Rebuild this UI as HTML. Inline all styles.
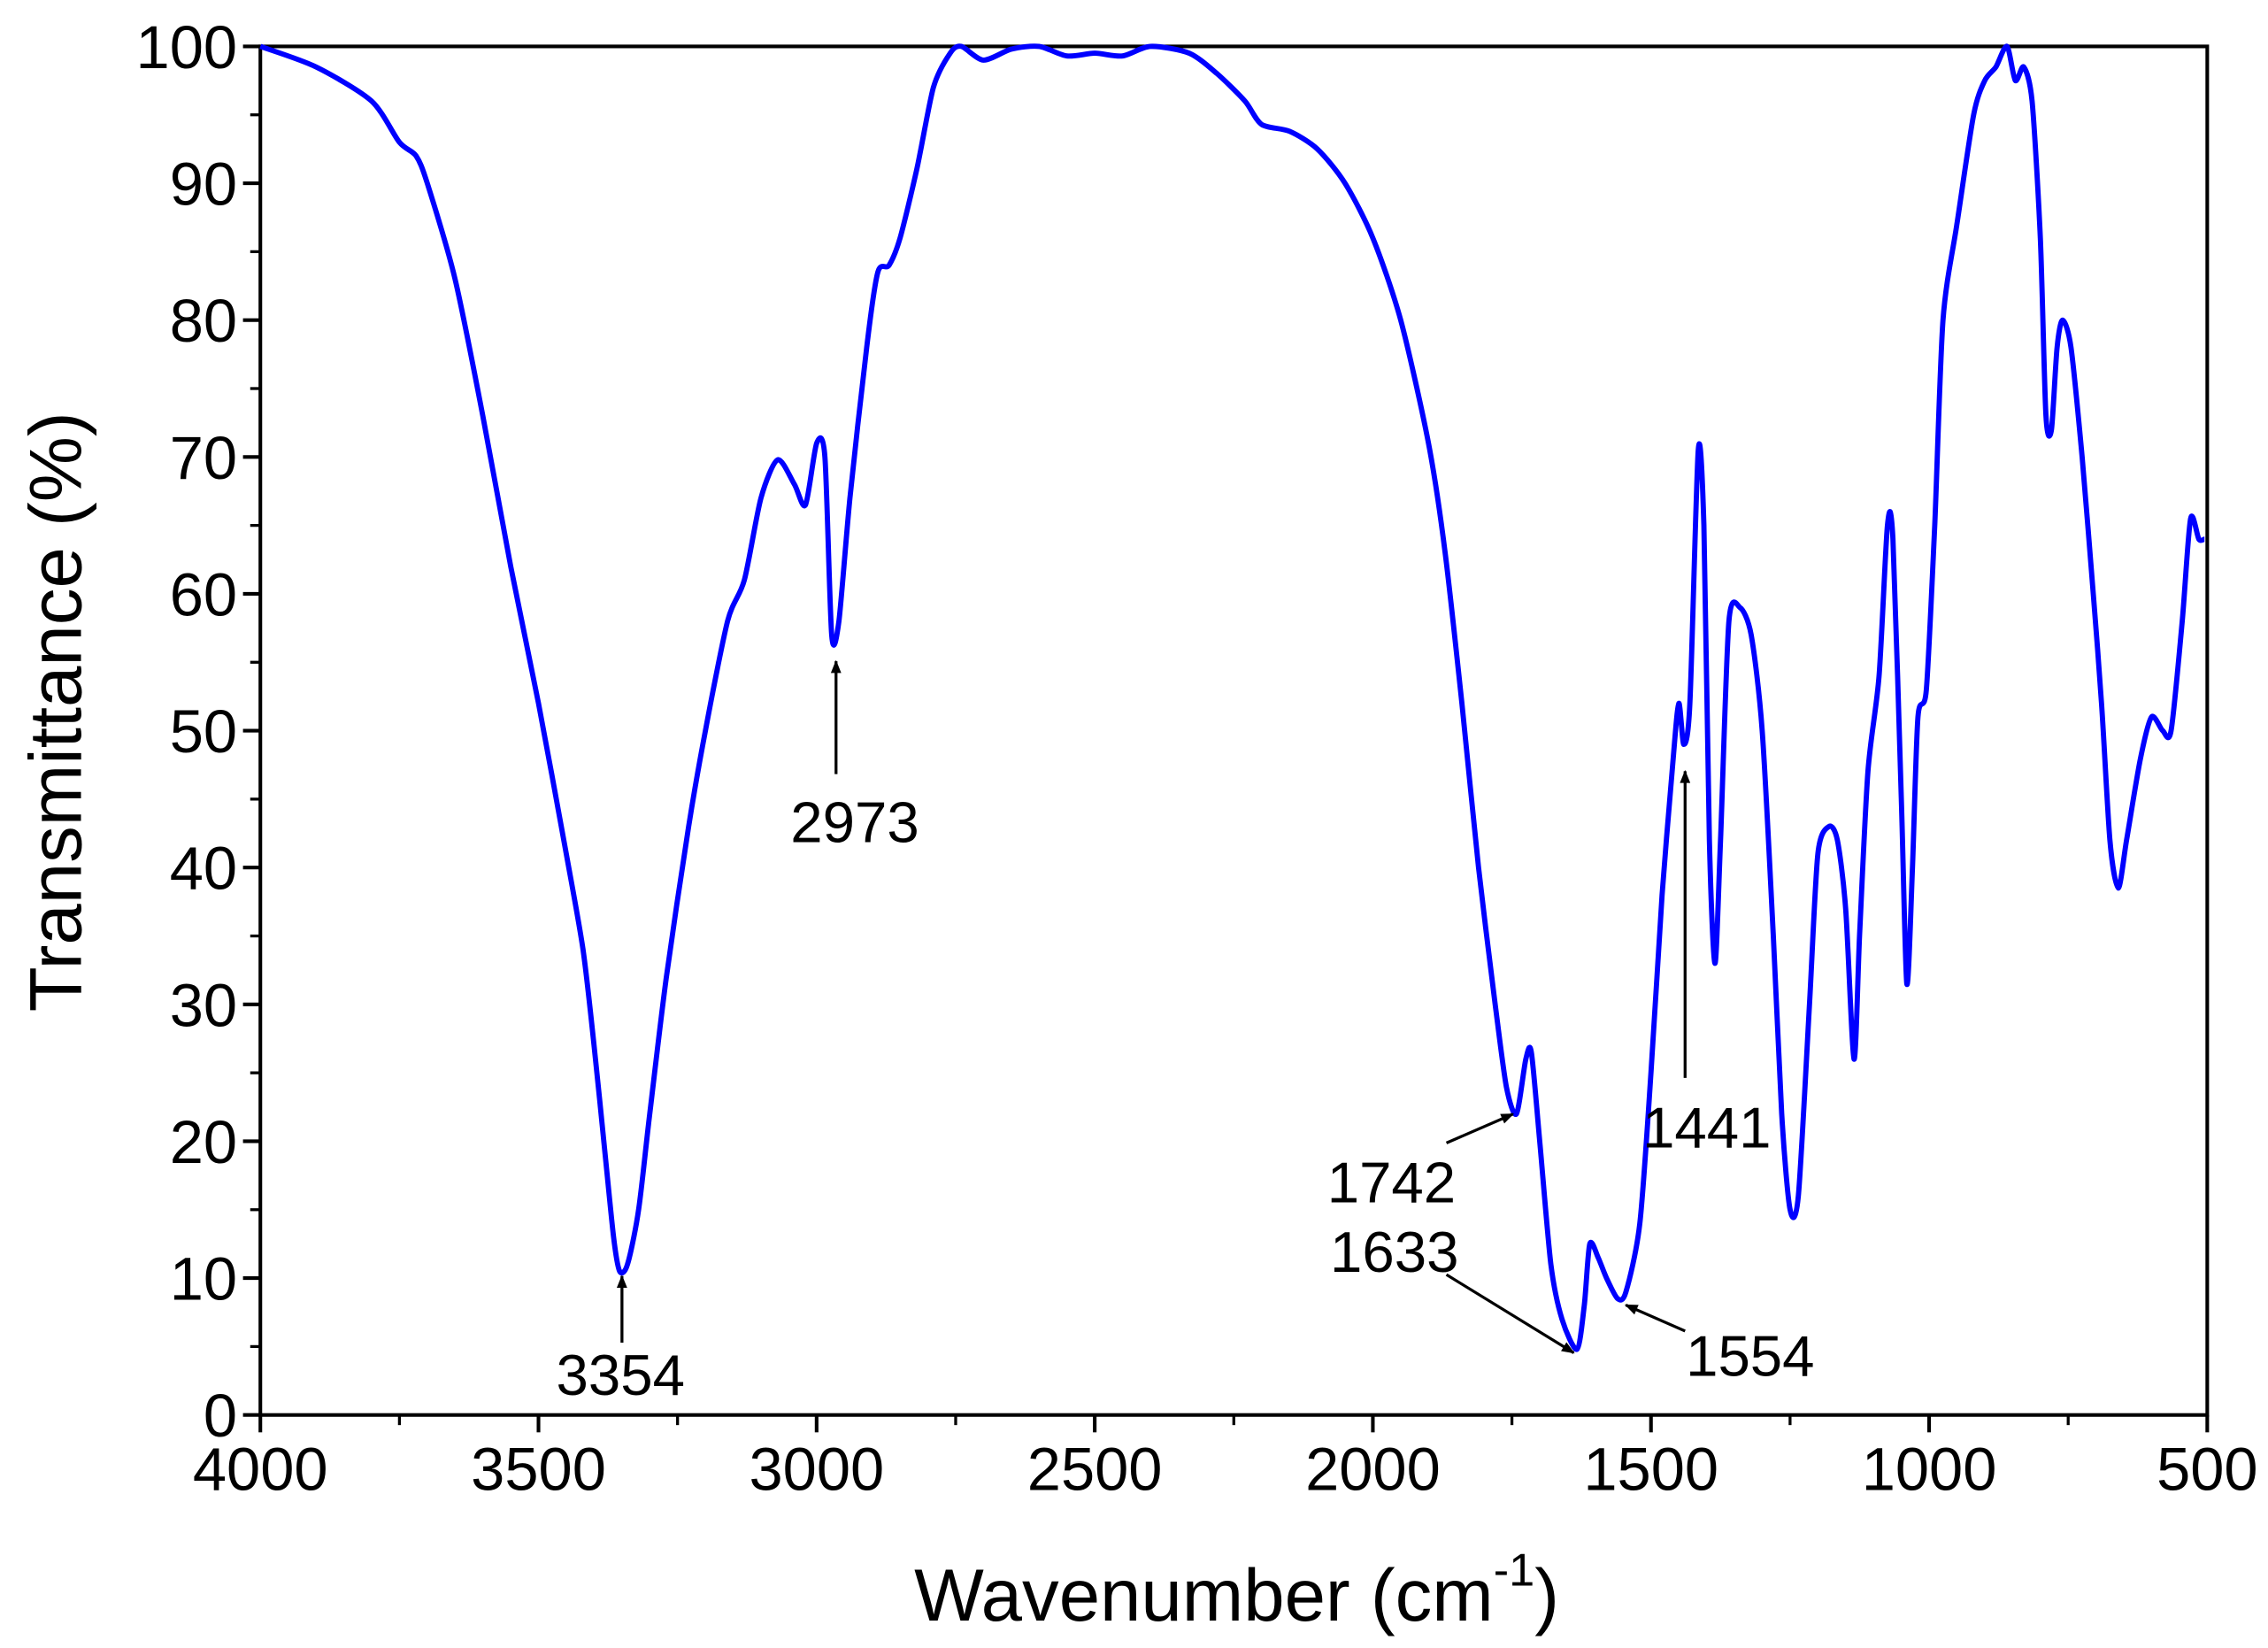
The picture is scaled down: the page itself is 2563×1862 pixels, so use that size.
<!DOCTYPE html>
<html><head><meta charset="utf-8"><style>
html,body{margin:0;padding:0;background:#fff;}
svg{display:block;}
text{font-family:"Liberation Sans",Arial,sans-serif;fill:#000;}
</style></head><body>
<svg id="chart" width="2563" height="1862" viewBox="0 0 1568 1139" xmlns="http://www.w3.org/2000/svg">
<defs><marker id="ah" viewBox="0 0 10 10" refX="9" refY="5" markerWidth="11" markerHeight="9" orient="auto-start-reverse" markerUnits="userSpaceOnUse"><path d="M0,1 L10,5 L0,9 z" fill="#000"/></marker></defs>
<g id="ticks"></g>
<rect x="180" y="32" width="1346" height="946" fill="none" stroke="#000" stroke-width="2.5"/>
<path id="curve" fill="none" stroke="#0000ff" stroke-width="3.6" stroke-linejoin="round"/>
<g id="ann"></g>
<text x="855" y="1120" font-size="51" text-anchor="middle">Wavenumber (cm<tspan font-size="32" dy="-24">-1</tspan><tspan dy="24">)</tspan></text>
<text transform="translate(56,492) rotate(-90)" font-size="51" text-anchor="middle">Transmittance (%)</text>
</svg>
<script>
const wavenumbers=[4000,3900,3800,3750,3720,3700,3650,3600,3550,3500,3450,3420,3400,3380,3365,3354,3340,3320,3300,3270,3230,3200,3160,3130,3100,3070,3040,3020,3000,2985,2973,2960,2940,2910,2890,2870,2850,2820,2790,2760,2740,2700,2650,2600,2550,2500,2450,2400,2330,2280,2230,2200,2150,2100,2050,2000,1950,1900,1870,1840,1810,1780,1760,1742,1725,1715,1700,1680,1660,1633,1620,1610,1595,1580,1560,1545,1520,1500,1480,1460,1450,1441,1430,1415,1405,1395,1385,1375,1360,1340,1320,1300,1280,1265,1250,1235,1215,1200,1180,1165,1150,1135,1125,1110,1090,1075,1065,1050,1040,1030,1020,1005,990,975,950,920,900,880,860,845,830,815,800,790,780,770,760,745,725,705,690,675,660,645,620,600,580,565,545,530,515,505];
const transmittance=[100,98.5,96,93,92,90,83,73,62,52,41,34,27,19,13,10.5,11,15,22,32,43,50,58,61,67,69.8,68,66.5,71,70,57,58,67,78,83.5,84,86,91,97,99.5,100,99,99.8,100,99.3,99.5,99.3,100,99.5,98,96,94.3,93.8,92.5,90,86,80,71,63,52,40,30,24,22,26,26.5,20,11,7,4.8,8,12.5,11.5,10,8.5,9,14,25,38,48,52,49,52,70.5,65,42,33,42,58,59,57,50,35,22,15,16,30,41,43,42,37,26,35,47,54,65,64,45,31.5,40,51,53,65,80,87,95,97.5,98.5,100,97.5,98.5,96,86,73,72,78,80,78,70,60,52,42,38.5,42,48,51,50,50,58,65.5,64,64];
const xTickLabels=[4000,3500,3000,2500,2000,1500,1000,500];
const yTickLabels=[0,10,20,30,40,50,60,70,80,90,100];
const peakLabels=["3354","2973","1742","1633","1554","1441"];
const X0=180,X1=1526,Y0=978,Y1=32;
const xs=w=>X0+(4000-w)/3500*(X1-X0);
const ys=t=>Y0-t/100*(Y0-Y1);
const NS="http://www.w3.org/2000/svg";
const tg=document.getElementById('ticks');
function mk(tag,attrs,parent){const e=document.createElementNS(NS,tag);for(const k in attrs)e.setAttribute(k,attrs[k]);parent.appendChild(e);return e;}
xTickLabels.forEach(v=>{const x=xs(v);
 const l=mk('line',{x1:x,x2:x,y1:Y0,y2:Y0+12,stroke:'#000','stroke-width':2.5},tg);
 
 
 const t=mk('text',{x:x,y:Y0+52,'font-size':42,'text-anchor':'middle'},tg);t.textContent=v;
 
 
 if(v>500){const m=mk('line',{x1:xs(v-250),x2:xs(v-250),y1:Y0,y2:Y0+7,stroke:'#000','stroke-width':2},tg);
 
 }
});
yTickLabels.forEach(v=>{const y=ys(v);
 const l=mk('line',{x1:X0-12,x2:X0,y1:y,y2:y,stroke:'#000','stroke-width':2.5},tg);
 
 
 const t=mk('text',{x:X0-16,y:y+15,'font-size':42,'text-anchor':'end'},tg);t.textContent=v;
 
 
 if(v<100){const m=mk('line',{x1:X0-7,x2:X0,y1:ys(v+5),y2:ys(v+5),stroke:'#000','stroke-width':2},tg);
 
 }
});
// Catmull-Rom smoothed path through data points
const P=wavenumbers.map((w,i)=>[xs(w),ys(transmittance[i])]);
let d='M'+P[0][0].toFixed(1)+','+P[0][1].toFixed(1);
for(let i=0;i<P.length-1;i++){const p0=P[Math.max(i-1,0)],p1=P[i],p2=P[i+1],p3=P[Math.min(i+2,P.length-1)];const k=1/6*0.8;
 const c1=[p1[0]+(p2[0]-p0[0])*k,p1[1]+(p2[1]-p0[1])*k],c2=[p2[0]-(p3[0]-p1[0])*k,p2[1]-(p3[1]-p1[1])*k];
 d+='C'+c1.map(v=>v.toFixed(1)).join(',')+' '+c2.map(v=>v.toFixed(1)).join(',')+' '+p2[0].toFixed(1)+','+p2[1].toFixed(1);}
document.getElementById('curve').setAttribute('d',d);
const ann=document.getElementById('ann');
const annLayout=[[429,964,430,928,430,882],[591,582,578,535,578,457],[962,831,1000,790,1046,770],[964,879,1000,881,1088,935],[1210,951,1165,920,1124,902],[1180,793,1165,745,1165,533]];
peakLabels.forEach((s,i)=>{const a=annLayout[i];
 const t=mk('text',{x:a[0],y:a[1],'font-size':40,'text-anchor':'middle'},ann);t.textContent=s;
 
 
 const l=mk('line',{x1:a[2],y1:a[3],x2:a[4],y2:a[5],stroke:'#000','stroke-width':2,'marker-end':'url(#ah)'},ann);
 
 
});
</script>
</body></html>
